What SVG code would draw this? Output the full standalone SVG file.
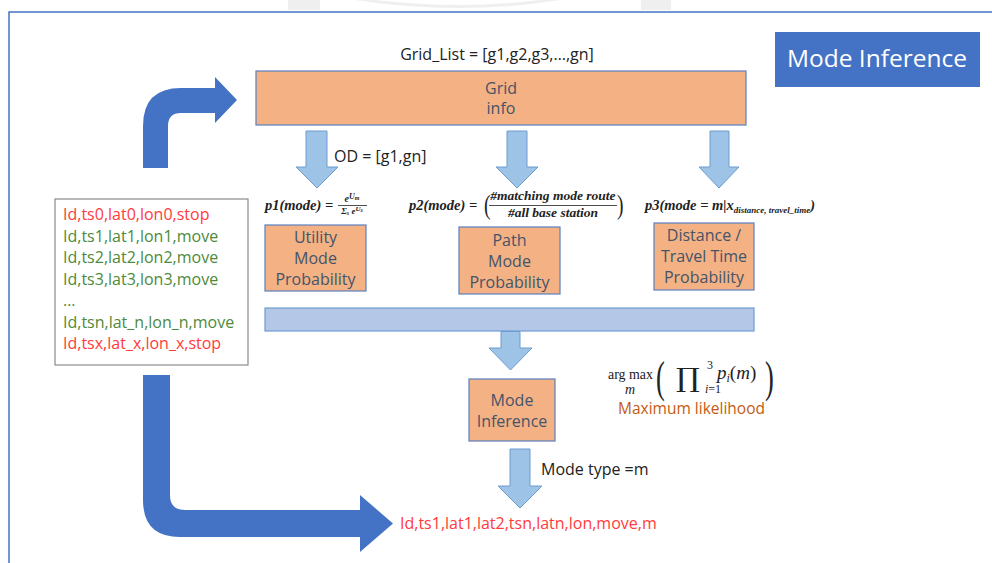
<svg xmlns="http://www.w3.org/2000/svg" width="992" height="563" viewBox="0 0 992 563">
  <style>
    .sans { font-family: "Open Sans", "Liberation Sans", sans-serif; }
    .box { fill: #F4B183; stroke: #5B7FC0; stroke-width: 1.2; }
    .boxtext { font-family: "Open Sans", "Liberation Sans", sans-serif; font-size: 16px; fill: #44546A; text-anchor: middle; }
    .down { fill: #9DC3E6; stroke: #6F9CD0; stroke-width: 1; }
    .bar { fill: #B4C7E7; stroke: #6F9CD0; stroke-width: 1.2; }
    .big { fill: #4472C4; }
    .math { font-family: "Liberation Serif", "DejaVu Serif", serif; font-style: italic; font-weight: bold; fill: #222; }
    .lbl { font-family: "Open Sans", "Liberation Sans", sans-serif; font-size: 16px; fill: #222; }
    .red { fill: #FF3B3B; }
    .green { fill: #4E8A3A; }
    .rec { font-family: "Open Sans", "Liberation Sans", sans-serif; font-size: 16px; }
  </style>

  <rect width="992" height="563" fill="#ffffff"/>

  <!-- faint scan marks along the top edge -->
  <g fill="#e6e6e6" opacity="0.6">
    <rect x="288" y="0" width="32" height="10"/>
    <rect x="641" y="0" width="30" height="10"/>
    <path d="M 355 0 Q 460 16 560 0 L 540 0 Q 460 10 375 0 Z"/>
  </g>

  <!-- outer frame -->
  <path d="M 9 563 L 9 12 L 992 12" fill="none" stroke="#4472C4" stroke-width="1.5"/>

  <!-- title -->
  <g id="title">
    <rect x="775" y="32" width="205" height="55" fill="#4472C4"/>
    <text x="877" y="67" class="sans" font-size="24.5" fill="#ffffff" text-anchor="middle">Mode Inference</text>
  </g>

  <!-- grid info -->
  <g id="grid-info">
    <text x="497" y="60" class="lbl" font-size="17.5" text-anchor="middle">Grid_List = [g1,g2,g3,…,gn]</text>
    <rect x="256" y="71" width="490" height="54" class="box"/>
    <text x="501" y="94" class="boxtext">Grid</text>
    <text x="501" y="114" class="boxtext">info</text>
  </g>

  <!-- trajectory record list -->
  <g id="records">
    <rect x="55" y="199" width="193" height="166" fill="#ffffff" stroke="#8a8a8a" stroke-width="1.2"/>
    <text class="rec red" x="63" y="220">Id,ts0,lat0,lon0,stop</text>
    <text class="rec green" x="63" y="242">Id,ts1,lat1,lon1,move</text>
    <text class="rec green" x="63" y="263">Id,ts2,lat2,lon2,move</text>
    <text class="rec green" x="63" y="285">Id,ts3,lat3,lon3,move</text>
    <text class="rec green" x="63" y="306">…</text>
    <text class="rec green" x="63" y="328">Id,tsn,lat_n,lon_n,move</text>
    <text class="rec red" x="63" y="349">Id,tsx,lat_x,lon_x,stop</text>
  </g>

  <!-- probability models -->
  <g id="utility">
    <text class="math" x="265" y="210" font-size="14.5">p1(mode) =</text>
    <text class="math" x="352" y="202" font-size="10" text-anchor="middle">e<tspan font-size="8" dy="-3">U</tspan><tspan font-size="6" dy="1">m</tspan></text>
    <line x1="338" y1="205.5" x2="367" y2="205.5" stroke="#222" stroke-width="0.8"/>
    <text class="math" x="352" y="214" font-size="9" text-anchor="middle">Σ<tspan font-size="6" dy="1">s</tspan><tspan dy="-1"> e</tspan><tspan font-size="7" dy="-3">U</tspan><tspan font-size="6" dy="1">s</tspan></text>
    <rect x="265" y="225" width="101" height="66" class="box"/>
    <text class="boxtext" x="315.5" y="243">Utility</text>
    <text class="boxtext" x="315.5" y="264">Mode</text>
    <text class="boxtext" x="315.5" y="285">Probability</text>
  </g>

  <g id="path">
    <text class="math" x="409" y="210" font-size="14.5">p2(mode) =</text>
    <text x="484" y="214" font-family="Liberation Serif, serif" font-size="28" fill="#222" transform="translate(484 206) scale(0.7 1) translate(-484 -206)">(</text>
    <text class="math" x="553" y="200" font-size="13.5" text-anchor="middle">#matching mode route</text>
    <line x1="489" y1="205.5" x2="617" y2="205.5" stroke="#222" stroke-width="0.8"/>
    <text class="math" x="553" y="217" font-size="13.5" text-anchor="middle">#all base station</text>
    <text x="617" y="214" font-family="Liberation Serif, serif" font-size="28" fill="#222" transform="translate(617 206) scale(0.7 1) translate(-617 -206)">)</text>
    <rect x="459" y="227" width="101" height="67" class="box"/>
    <text class="boxtext" x="509.5" y="246">Path</text>
    <text class="boxtext" x="509.5" y="267">Mode</text>
    <text class="boxtext" x="509.5" y="288">Probability</text>
  </g>

  <g id="distance">
    <text class="math" x="645" y="210" font-size="14.5">p3(mode = m|x<tspan font-size="9" dy="3">distance, travel_time</tspan><tspan font-size="14.5" dy="-3">)</tspan></text>
    <rect x="654" y="223" width="100" height="67" class="box"/>
    <text class="boxtext" x="704" y="241">Distance /</text>
    <text class="boxtext" x="704" y="262">Travel Time</text>
    <text class="boxtext" x="704" y="283">Probability</text>
  </g>

  <!-- combining bar -->
  <g id="combine">
    <rect x="265" y="308" width="489" height="23" class="bar"/>
  </g>

  <!-- final inference -->
  <g id="mode-inference">
    <rect x="469" y="379" width="86" height="62" class="box"/>
    <text class="boxtext" x="512" y="406">Mode</text>
    <text class="boxtext" x="512" y="427">Inference</text>
  </g>

  <g id="likelihood">
    <text x="608" y="379" font-family="Liberation Serif, serif" font-size="15.5" fill="#222" textLength="45" lengthAdjust="spacingAndGlyphs">arg max</text>
    <text x="630" y="394" font-family="Liberation Serif, serif" font-style="italic" font-size="14" fill="#222" text-anchor="middle">m</text>
    <text x="656" y="392" font-family="Liberation Serif, serif" font-size="44" fill="#222" transform="translate(656 378) scale(0.6 1) translate(-656 -378)">(</text>
    <text x="676" y="387" font-family="DejaVu Serif, serif" font-size="26" fill="#222" transform="translate(676 378) scale(1.15 1) translate(-676 -378)">∏</text>
    <text x="707" y="369" font-family="Liberation Serif, serif" font-size="12" fill="#222">3</text>
    <text x="705" y="393" font-family="Liberation Serif, serif" font-style="italic" font-size="12" fill="#222">i<tspan font-style="normal">=1</tspan></text>
    <text x="717" y="379" font-family="Liberation Serif, serif" font-style="italic" font-size="19" fill="#222">p<tspan font-size="12" dy="3">i</tspan><tspan dy="-3" font-style="normal">(</tspan>m<tspan font-style="normal">)</tspan></text>
    <text x="765" y="392" font-family="Liberation Serif, serif" font-size="44" fill="#222" transform="translate(765 378) scale(0.6 1) translate(-765 -378)">)</text>
    <text x="618" y="414" class="sans" font-size="15.5" fill="#C55A11">Maximum likelihood</text>
  </g>

  <g id="output">
    <text class="rec red" x="400" y="529" font-size="17">Id,ts1,lat1,lat2,tsn,latn,lon,move,m</text>
  </g>

  <!-- connectors -->
  <g id="connectors">
    <!-- grid info to each model -->
    <path class="down" d="M 306 131 H 327 V 167 H 338 L 317 188 L 296 167 H 306 Z"/>
    <path class="down" d="M 507 131 H 527 V 167 H 538 L 517 188 L 496 167 H 507 Z"/>
    <path class="down" d="M 710 131 H 729 V 167 H 739 L 719 188 L 699 167 H 710 Z"/>
    <text class="lbl" x="334" y="162">OD = [g1,gn]</text>
    <!-- bar to mode inference -->
    <path class="down" d="M 501 331.5 H 520 V 348 H 532 L 510.5 370 L 489 348 H 501 Z"/>
    <!-- mode inference to output -->
    <path class="down" d="M 510 449 H 530 V 486 H 542 L 520 508 L 498 486 H 510 Z"/>
    <text class="lbl" x="541" y="475">Mode type =m</text>
    <!-- records up to grid info -->
    <path class="big" d="M 143 168 V 126 Q 143 88 181 88 H 215 V 77 L 237 100 L 215 123 V 113 H 181 Q 168 113 168 126 V 168 Z"/>
    <!-- records down to output -->
    <path class="big" d="M 143 375 H 170 V 495 Q 170 510 185 510 H 360 V 495 L 393 523.5 L 360 552 V 537 H 180 Q 143 537 143 500 Z"/>
  </g>
</svg>
